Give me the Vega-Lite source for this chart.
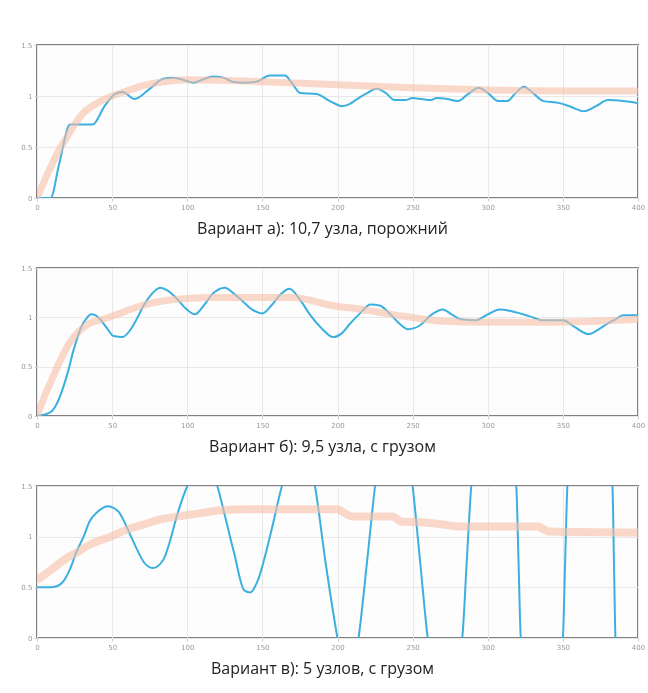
{
  "$schema": "https://vega.github.io/schema/vega-lite/v6.json",
  "padding": {"left": 19, "top": 40, "right": 2, "bottom": 2},
  "background": "white",
  "bounds": "flush",
  "spacing": 70,
  "config": {
    "view": {"stroke": "#808080", "strokeWidth": 2, "fill": "#fdfdfd"},
    "axis": {"labelFontSize": 7, "labelColor": "#999999", "gridColor": "#e8e8e8", "gridWidth": 1, "domain": false, "tickColor": "#cccccc", "tickSize": 3, "labelPadding": 2, "title": null, "labelFont": "DejaVu Sans"},
    "title": {"orient": "bottom", "fontSize": 16, "font": "Open Sans", "fontWeight": "normal", "color": "#222222", "offset": 11, "dx": -15, "anchor": "middle"}
  },
  "datasets": {
    "a_blue": [
      {"t":0,"v":0},{"t":9,"v":0},{"t":15,"v":0.35},{"t":22,"v":0.72},{"t":30,"v":0.72},{"t":37,"v":0.72},{"t":45,"v":0.9},{"t":52,"v":1.02},{"t":57,"v":1.04},{"t":65,"v":0.97},{"t":75,"v":1.07},{"t":84,"v":1.17},{"t":90,"v":1.18},{"t":97,"v":1.16},{"t":104,"v":1.13},{"t":110,"v":1.16},{"t":117,"v":1.19},{"t":124,"v":1.18},{"t":130,"v":1.14},{"t":138,"v":1.13},{"t":146,"v":1.14},{"t":155,"v":1.2},{"t":165,"v":1.2},{"t":170,"v":1.12},{"t":175,"v":1.03},{"t":186,"v":1.02},{"t":195,"v":0.95},{"t":203,"v":0.9},{"t":208,"v":0.92},{"t":213,"v":0.97},{"t":220,"v":1.03},{"t":226,"v":1.07},{"t":232,"v":1.03},{"t":238,"v":0.96},{"t":245,"v":0.96},{"t":250,"v":0.98},{"t":256,"v":0.97},{"t":262,"v":0.96},{"t":266,"v":0.98},{"t":273,"v":0.97},{"t":280,"v":0.95},{"t":287,"v":1.02},{"t":294,"v":1.08},{"t":300,"v":1.03},{"t":307,"v":0.95},{"t":313,"v":0.95},{"t":318,"v":1.02},{"t":324,"v":1.09},{"t":330,"v":1.03},{"t":337,"v":0.95},{"t":348,"v":0.93},{"t":356,"v":0.89},{"t":364,"v":0.85},{"t":372,"v":0.9},{"t":380,"v":0.96},{"t":390,"v":0.95},{"t":400,"v":0.93}
    ],
    "a_orange": [
      {"t":0,"v":0},{"t":5,"v":0.17},{"t":10,"v":0.33},{"t":15,"v":0.48},{"t":20,"v":0.6},{"t":25,"v":0.72},{"t":30,"v":0.82},{"t":40,"v":0.93},{"t":50,"v":1.0},{"t":60,"v":1.05},{"t":70,"v":1.1},{"t":80,"v":1.13},{"t":90,"v":1.15},{"t":100,"v":1.16},{"t":150,"v":1.14},{"t":200,"v":1.11},{"t":250,"v":1.08},{"t":300,"v":1.06},{"t":350,"v":1.05},{"t":400,"v":1.05}
    ],
    "b_blue": [
      {"t":0,"v":0},{"t":9,"v":0.04},{"t":13,"v":0.12},{"t":17,"v":0.27},{"t":21,"v":0.47},{"t":24,"v":0.65},{"t":27,"v":0.8},{"t":30,"v":0.92},{"t":33,"v":0.99},{"t":36,"v":1.03},{"t":39,"v":1.02},{"t":42,"v":0.98},{"t":47,"v":0.88},{"t":51,"v":0.81},{"t":57,"v":0.8},{"t":62,"v":0.87},{"t":67,"v":1.0},{"t":71,"v":1.12},{"t":76,"v":1.23},{"t":82,"v":1.3},{"t":87,"v":1.27},{"t":93,"v":1.19},{"t":99,"v":1.09},{"t":105,"v":1.03},{"t":111,"v":1.12},{"t":117,"v":1.24},{"t":125,"v":1.3},{"t":131,"v":1.24},{"t":137,"v":1.16},{"t":143,"v":1.08},{"t":150,"v":1.04},{"t":156,"v":1.12},{"t":162,"v":1.23},{"t":168,"v":1.29},{"t":175,"v":1.18},{"t":182,"v":1.02},{"t":190,"v":0.88},{"t":197,"v":0.8},{"t":203,"v":0.84},{"t":208,"v":0.93},{"t":215,"v":1.04},{"t":222,"v":1.13},{"t":228,"v":1.12},{"t":234,"v":1.05},{"t":241,"v":0.94},{"t":247,"v":0.88},{"t":255,"v":0.92},{"t":262,"v":1.02},{"t":270,"v":1.08},{"t":276,"v":1.03},{"t":282,"v":0.98},{"t":292,"v":0.97},{"t":300,"v":1.03},{"t":308,"v":1.08},{"t":319,"v":1.05},{"t":328,"v":1.01},{"t":337,"v":0.97},{"t":350,"v":0.97},{"t":358,"v":0.9},{"t":367,"v":0.83},{"t":373,"v":0.87},{"t":379,"v":0.93},{"t":385,"v":0.98},{"t":390,"v":1.02},{"t":400,"v":1.02}
    ],
    "b_orange": [
      {"t":0,"v":0},{"t":5,"v":0.2},{"t":11,"v":0.41},{"t":16,"v":0.58},{"t":22,"v":0.75},{"t":28,"v":0.86},{"t":34,"v":0.93},{"t":46,"v":0.99},{"t":55,"v":1.04},{"t":64,"v":1.09},{"t":75,"v":1.14},{"t":86,"v":1.17},{"t":100,"v":1.19},{"t":117,"v":1.2},{"t":170,"v":1.2},{"t":180,"v":1.18},{"t":190,"v":1.14},{"t":200,"v":1.11},{"t":212,"v":1.09},{"t":224,"v":1.06},{"t":240,"v":1.02},{"t":253,"v":0.99},{"t":270,"v":0.96},{"t":300,"v":0.95},{"t":340,"v":0.95},{"t":370,"v":0.96},{"t":400,"v":0.98}
    ],
    "c_blue": [
      {"t":0,"v":0.5},{"t":9,"v":0.5},{"t":13,"v":0.51},{"t":17,"v":0.55},{"t":22,"v":0.68},{"t":26,"v":0.84},{"t":31,"v":1.0},{"t":35,"v":1.15},{"t":40,"v":1.24},{"t":47,"v":1.3},{"t":54,"v":1.25},{"t":58,"v":1.15},{"t":62,"v":1.02},{"t":67,"v":0.86},{"t":71,"v":0.75},{"t":77,"v":0.69},{"t":84,"v":0.77},{"t":88,"v":0.93},{"t":93,"v":1.2},{"t":100,"v":1.5},{"t":110,"v":1.75},{"t":120,"v":1.5},{"t":124,"v":1.27},{"t":131,"v":0.85},{"t":138,"v":0.47},{"t":142,"v":0.45},{"t":147,"v":0.57},{"t":155,"v":1.0},{"t":163,"v":1.5},{"t":174,"v":2.0},{"t":185,"v":1.5},{"t":192,"v":0.75},{"t":200,"v":0},{"t":207,"v":-0.5},{"t":214,"v":0},{"t":220,"v":0.8},{"t":225,"v":1.5},{"t":238,"v":2.5},{"t":250,"v":1.5},{"t":255,"v":0.75},{"t":260,"v":0},{"t":270,"v":-0.8},{"t":283,"v":0},{"t":286,"v":0.75},{"t":289,"v":1.5},{"t":304,"v":3},{"t":319,"v":1.5},{"t":320.5,"v":0.75},{"t":322,"v":0},{"t":336,"v":-1.2},{"t":350,"v":0},{"t":351.5,"v":0.75},{"t":353,"v":1.5},{"t":368,"v":3.5},{"t":383,"v":1.5},{"t":384,"v":0.75},{"t":385,"v":0},{"t":392,"v":-1},{"t":400,"v":-2}
    ],
    "c_orange": [
      {"t":0,"v":0.57},{"t":10,"v":0.68},{"t":20,"v":0.79},{"t":26,"v":0.84},{"t":35,"v":0.92},{"t":49,"v":1.0},{"t":60,"v":1.07},{"t":71,"v":1.12},{"t":82,"v":1.17},{"t":94,"v":1.2},{"t":108,"v":1.23},{"t":122,"v":1.26},{"t":140,"v":1.27},{"t":200,"v":1.27},{"t":205,"v":1.23},{"t":210,"v":1.2},{"t":237,"v":1.2},{"t":242,"v":1.15},{"t":258,"v":1.14},{"t":270,"v":1.12},{"t":282,"v":1.1},{"t":333,"v":1.1},{"t":341,"v":1.05},{"t":400,"v":1.04}
    ]
  },
  "vconcat": [
    {
      "width": 601, "height": 153,
      "title": {"text": "Вариант а): 10,7 узла, порожний"},
      "encoding": {
        "x": {"field": "t", "type": "quantitative", "scale": {"domain": [0, 400], "nice": false}, "axis": {"values": [0,50,100,150,200,250,300,350,400], "labelFlush": false}},
        "y": {"field": "v", "type": "quantitative", "scale": {"domain": [0, 1.5], "nice": false}, "axis": {"values": [0,0.5,1,1.5], "format": "~g"}}
      },
      "layer": [
        {"data": {"name": "a_blue"}, "mark": {"type": "line", "color": "#3bb0e0", "strokeWidth": 2, "interpolate": "monotone", "clip": true}},
        {"data": {"name": "a_orange"}, "mark": {"type": "line", "color": "#f6c0a8", "strokeWidth": 7, "opacity": 0.6, "blend": "multiply", "interpolate": "monotone", "clip": true}}
      ]
    },
    {
      "width": 601, "height": 148,
      "title": {"text": "Вариант б): 9,5 узла, с грузом"},
      "encoding": {
        "x": {"field": "t", "type": "quantitative", "scale": {"domain": [0, 400], "nice": false}, "axis": {"values": [0,50,100,150,200,250,300,350,400], "labelFlush": false}},
        "y": {"field": "v", "type": "quantitative", "scale": {"domain": [0, 1.5], "nice": false}, "axis": {"values": [0,0.5,1,1.5], "format": "~g"}}
      },
      "layer": [
        {"data": {"name": "b_blue"}, "mark": {"type": "line", "color": "#3bb0e0", "strokeWidth": 2, "interpolate": "monotone", "clip": true}},
        {"data": {"name": "b_orange"}, "mark": {"type": "line", "color": "#f6c0a8", "strokeWidth": 7, "opacity": 0.6, "blend": "multiply", "interpolate": "monotone", "clip": true}}
      ]
    },
    {
      "width": 601, "height": 152,
      "title": {"text": "Вариант в): 5 узлов, с грузом"},
      "encoding": {
        "x": {"field": "t", "type": "quantitative", "scale": {"domain": [0, 400], "nice": false}, "axis": {"values": [0,50,100,150,200,250,300,350,400], "labelFlush": false}},
        "y": {"field": "v", "type": "quantitative", "scale": {"domain": [0, 1.5], "nice": false}, "axis": {"values": [0,0.5,1,1.5], "format": "~g"}}
      },
      "layer": [
        {"data": {"name": "c_blue"}, "mark": {"type": "line", "color": "#3bb0e0", "strokeWidth": 2, "interpolate": "monotone", "clip": true}},
        {"data": {"name": "c_orange"}, "mark": {"type": "line", "color": "#f6c0a8", "strokeWidth": 8, "opacity": 0.6, "blend": "multiply", "interpolate": "monotone", "clip": true}}
      ]
    }
  ]
}
